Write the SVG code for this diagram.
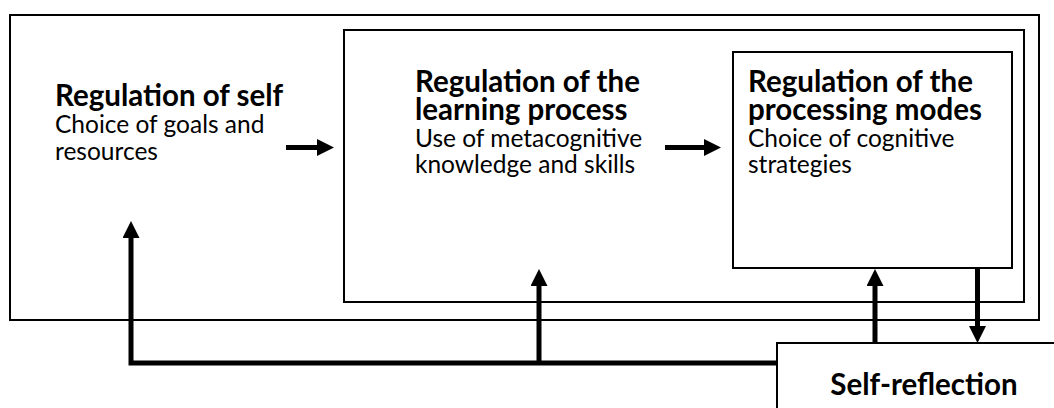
<svg xmlns="http://www.w3.org/2000/svg" width="1054" height="408" viewBox="0 0 1054 408">
<style>
.box{fill:none;stroke:#000;stroke-width:2}
.boxw{fill:#fff;stroke:#000;stroke-width:2}
.t{font-family:Lato,"Liberation Sans",sans-serif;fill:#000}
.b{font-weight:bold;font-size:29.5px}
.r{font-size:24.5px}
.c{fill:none;stroke:#000;stroke-width:5;stroke-linejoin:miter}
</style>
<defs>
<marker id="ah" viewBox="0 0 17 17" refX="0" refY="8.5" markerWidth="17" markerHeight="17" markerUnits="userSpaceOnUse" orient="auto">
<path d="M0,0 L17,8.5 L0,17 z" fill="#000"/>
</marker>
</defs>
<g id="self">
<rect class="box" x="10" y="15" width="1029" height="305"/>
<text class="t b" x="55" y="106">Regulation of self</text>
<text class="t r" x="55" y="133">Choice of goals and</text>
<text class="t r" x="55" y="160">resources</text>
</g>
<g id="learning">
<rect class="box" x="344" y="30" width="680" height="272"/>
<text class="t b" x="415" y="92">Regulation of the</text>
<text class="t b" x="415" y="120">learning process</text>
<text class="t r" x="415" y="147">Use of metacognitive</text>
<text class="t r" x="415" y="173">knowledge and skills</text>
</g>
<g id="processing">
<rect class="box" x="733" y="52" width="279" height="216"/>
<text class="t b" x="748" y="92">Regulation of the</text>
<text class="t b" x="748" y="120">processing modes</text>
<text class="t r" x="748" y="147">Choice of cognitive</text>
<text class="t r" x="748" y="173">strategies</text>
</g>
<g id="reflection">
<rect class="boxw" x="777" y="343" width="300" height="80"/>
<text class="t b" x="924" y="395" text-anchor="middle">Self-reflection</text>
</g>
<g id="connectors">
<path class="c" d="M286,147.5 H317" marker-end="url(#ah)"/>
<path class="c" d="M665,147.5 H704" marker-end="url(#ah)"/>
<path class="c" d="M777,363 H131 V238" marker-end="url(#ah)"/>
<path class="c" d="M539,363 V286" marker-end="url(#ah)"/>
<path class="c" d="M875,343 V286" marker-end="url(#ah)"/>
<path class="c" d="M977.5,268 V326" marker-end="url(#ah)"/>
</g>
</svg>
